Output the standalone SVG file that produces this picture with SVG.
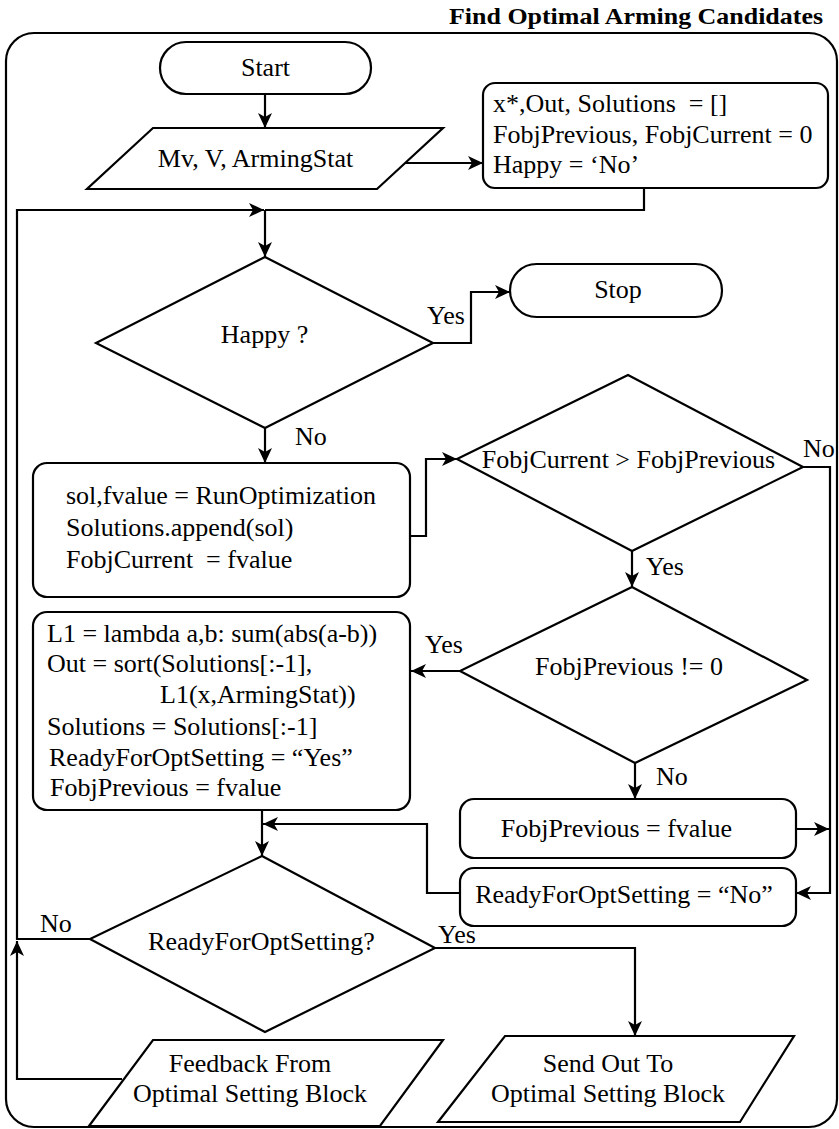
<svg xmlns="http://www.w3.org/2000/svg" width="839" height="1129" viewBox="0 0 839 1129" font-family="'Liberation Serif', 'DejaVu Serif', serif">
  <style>
    .shape { fill: #ffffff; stroke: #000000; stroke-width: 2.2; }
    .edge { fill: none; stroke: #000000; stroke-width: 2.2; }
    .arrow { marker-end: url(#head); }
    text { font-family: 'Liberation Serif', 'DejaVu Serif', serif; font-size: 26px; fill: #000000; }
    .c { text-anchor: middle; }
    .title { font-weight: bold; font-size: 23px; }
  </style>
  <defs>
    <marker id="head" viewBox="-16 -8 17 16" markerWidth="17" markerHeight="16" markerUnits="userSpaceOnUse" refX="0" refY="0" orient="auto">
      <path d="M0,0 L-15,-7 L-11,0 L-15,7 Z" fill="#000000"/>
    </marker>
  </defs>

  <rect width="839" height="1129" fill="#ffffff"/>

  <!-- frame and caption -->
  <g id="frame">
    <rect class="shape" x="6" y="33" width="831" height="1094" rx="28" ry="28" fill="none"/>
    <text class="title" x="449" y="24" textLength="374" lengthAdjust="spacingAndGlyphs">Find Optimal Arming Candidates</text>
  </g>

  <!-- connectors -->
  <g id="connectors">
    <path class="edge arrow" d="M265,94 L265,128"/>
    <path class="edge arrow" d="M405,163 L483,163"/>
    <path class="edge" d="M644,188 L644,210 L265,210"/>
    <path class="edge arrow" d="M265,210 L265,257"/>
    <path class="edge arrow" d="M90,939 L17,939 L17,210 L264,210"/>
    <path class="edge arrow" d="M122,1079 L17,1079 L17,941"/>
    <path class="edge arrow" d="M433,343 L471,343 L471,292 L510,292"/>
    <path class="edge arrow" d="M265,428 L265,463"/>
    <path class="edge arrow" d="M410,536 L426,536 L426,459 L457,459"/>
    <path class="edge arrow" d="M803,467 L830,467 L830,893 L796,893"/>
    <path class="edge arrow" d="M632,551 L632,587"/>
    <path class="edge arrow" d="M460,671 L411,671"/>
    <path class="edge arrow" d="M635,763 L635,799"/>
    <path class="edge arrow" d="M796,829 L829,829"/>
    <path class="edge arrow" d="M460,893 L427,893 L427,824 L263,824"/>
    <path class="edge arrow" d="M262,810 L262,856"/>
    <path class="edge arrow" d="M435,948 L635,948 L635,1036"/>

    <text x="427" y="324">Yes</text>
    <text x="295" y="445">No</text>
    <text x="803" y="457">No</text>
    <text x="646" y="575">Yes</text>
    <text x="425" y="653">Yes</text>
    <text x="656" y="785">No</text>
    <text x="40" y="932">No</text>
    <text x="438" y="943">Yes</text>
  </g>

  <g id="start">
    <rect class="shape" x="160" y="42" width="211" height="52" rx="26" ry="26"/>
    <text class="c" x="265.5" y="76">Start</text>
  </g>

  <g id="inputs">
    <polygon class="shape" points="153,128 443,128 377,189 87,189"/>
    <text class="c" x="255.5" y="167">Mv, V, ArmingStat</text>
  </g>

  <g id="init">
    <rect class="shape" x="483" y="83" width="345" height="105" rx="12" ry="12"/>
    <text x="493" y="112" xml:space="preserve">x*,Out, Solutions  = []</text>
    <text x="493" y="143">FobjPrevious, FobjCurrent = 0</text>
    <text x="493" y="173">Happy = ‘No’</text>
  </g>

  <g id="happy">
    <polygon class="shape" points="265,257 433,343 265,428 96,343"/>
    <text class="c" x="264.5" y="343">Happy ?</text>
  </g>

  <g id="stop">
    <rect class="shape" x="510" y="264" width="212" height="53" rx="26.5" ry="26.5"/>
    <text class="c" x="618" y="298">Stop</text>
  </g>

  <g id="optimize">
    <rect class="shape" x="33" y="463" width="377" height="134" rx="14" ry="14"/>
    <text x="66" y="504">sol,fvalue = RunOptimization</text>
    <text x="66" y="536">Solutions.append(sol)</text>
    <text x="66" y="568" xml:space="preserve">FobjCurrent  = fvalue</text>
  </g>

  <g id="compare">
    <polygon class="shape" points="628,375 803,467 632,551 457,459"/>
    <text class="c" x="628.5" y="468">FobjCurrent &gt; FobjPrevious</text>
  </g>

  <g id="prev-nonzero">
    <polygon class="shape" points="632,587 807,680 635,763 460,671"/>
    <text class="c" x="629" y="675">FobjPrevious != 0</text>
  </g>

  <g id="select">
    <rect class="shape" x="33" y="612" width="377" height="198" rx="14" ry="14"/>
    <text x="47" y="642">L1 = lambda a,b: sum(abs(a-b))</text>
    <text x="47" y="672">Out = sort(Solutions[:-1],</text>
    <text x="160" y="703">L1(x,ArmingStat))</text>
    <text x="47" y="735">Solutions = Solutions[:-1]</text>
    <text x="49" y="766">ReadyForOptSetting = “Yes”</text>
    <text x="50" y="796">FobjPrevious = fvalue</text>
  </g>

  <g id="store-prev">
    <rect class="shape" x="460" y="799" width="336" height="59" rx="14" ry="14"/>
    <text class="c" x="616.5" y="837">FobjPrevious = fvalue</text>
  </g>

  <g id="not-ready">
    <rect class="shape" x="460" y="868" width="336" height="58" rx="14" ry="14"/>
    <text class="c" x="624" y="903">ReadyForOptSetting = “No”</text>
  </g>

  <g id="ready">
    <polygon class="shape" points="262,856 435,948 265,1032 90,939"/>
    <text class="c" x="261.5" y="950">ReadyForOptSetting?</text>
  </g>

  <g id="feedback">
    <polygon class="shape" points="153,1040 443,1040 380,1126 89,1126"/>
    <text class="c" x="250" y="1072">Feedback From</text>
    <text class="c" x="250" y="1102">Optimal Setting Block</text>
  </g>

  <g id="send-out">
    <polygon class="shape" points="505,1036 794,1036 740,1122 438,1122"/>
    <text class="c" x="608" y="1072">Send Out To</text>
    <text class="c" x="608" y="1102">Optimal Setting Block</text>
  </g>
</svg>
